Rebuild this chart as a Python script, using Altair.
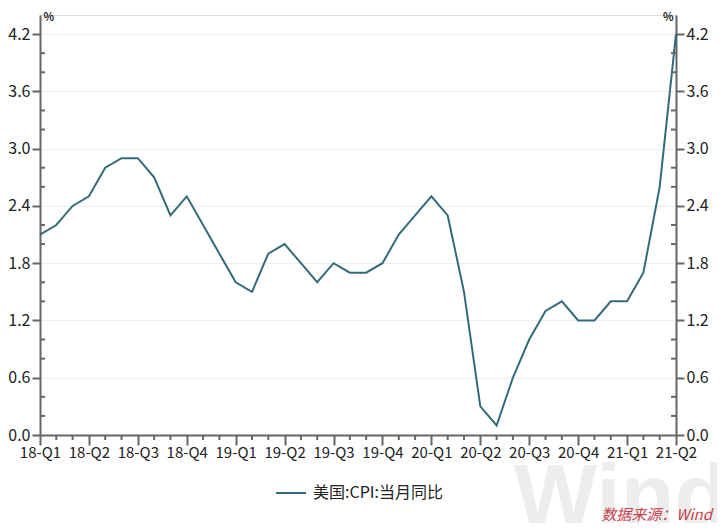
import altair as alt
import pandas as pd

# ---- data ----
months = [f"{y}-{m:02d}" for y in (2018, 2019, 2020) for m in range(1, 13)] + [
    "2021-01", "2021-02", "2021-03", "2021-04"]
cpi = [2.1, 2.2, 2.4, 2.5, 2.8, 2.9, 2.9, 2.7, 2.3, 2.5, 2.2, 1.9,
       1.6, 1.5, 1.9, 2.0, 1.8, 1.6, 1.8, 1.7, 1.7, 1.8, 2.1, 2.3,
       2.5, 2.3, 1.5, 0.3, 0.1, 0.6, 1.0, 1.3, 1.4, 1.2, 1.2, 1.4,
       1.4, 1.7, 2.6, 4.2]
quarters = ["18-Q1", "18-Q2", "18-Q3", "18-Q4", "19-Q1", "19-Q2", "19-Q3", "19-Q4",
            "20-Q1", "20-Q2", "20-Q3", "20-Q4", "21-Q1", "21-Q2"]
x_major = [0, 3, 6, 9, 12, 15, 18, 21, 24, 27, 30, 33, 36, 39]
x_minor = [1, 2, 4, 5, 7, 8, 10, 11, 13, 14, 16, 17, 19, 20, 22, 23, 25, 26,
           28, 29, 31, 32, 34, 35, 37, 38]
y_major = [0.0, 0.6, 1.2, 1.8, 2.4, 3.0, 3.6, 4.2]
y_minor = [0.2, 0.4, 0.8, 1.0, 1.4, 1.6, 2.0, 2.2, 2.6, 2.8, 3.2, 3.4, 3.8, 4.0]
series_name = "美国:CPI:当月同比"
source_text = "数据来源：Wind"
watermark_text = "Wind"

df = pd.DataFrame({"idx": list(range(len(cpi))), "month": months, "value": cpi,
                   "series": series_name})
yminor_df = pd.DataFrame({"v": y_minor})
xminor_df = pd.DataFrame({"v": x_minor})

FONT = "Noto Sans CJK SC"
AX = "#666666"
LINE = "#336b7a"
TXT = "#222222"
W, H = 636, 420
label_arr = "[" + ",".join(f"'{q}'" for q in quarters) + "]"

x_scale = alt.Scale(domain=[0, len(cpi) - 1], nice=False, zero=False)
x_axis = alt.Axis(
    values=x_major,
    labelExpr=f"{label_arr}[round(datum.value / 3)]",
    tickSize=10, grid=False, title=None, domainColor=AX, domainWidth=2,
    tickColor=AX, tickWidth=2, labelFont=FONT, labelFontSize=15, labelColor=TXT,
    labelPadding=0, labelFlush=False, labelOverlap=False, labelBound=False,
)

y_scale = alt.Scale(domain=[0, 4.4], nice=False, zero=True)


def y_axis(orient):
    left = orient == "left"
    return alt.Axis(
        orient=orient, values=y_major, format=".1f", tickSize=8, labelPadding=2,
        grid=left, gridColor="#eeeeee", gridWidth=1,
        domainColor=AX, domainWidth=2, tickColor=AX, tickWidth=2,
        labelFont=FONT, labelFontSize=16, labelColor=TXT,
        title="%", titleAngle=0, titleX=3 if left else -3, titleY=2,
        titleAlign="left" if left else "right", titleBaseline="middle",
        titleFont=FONT, titleFontSize=11, titleFontWeight="bold", titleColor=TXT,
    )


line = alt.Chart(df).mark_line(strokeWidth=2).encode(
    x=alt.X("idx:Q", scale=x_scale, axis=x_axis),
    y=alt.Y("value:Q", scale=y_scale, axis=y_axis("left")),
    color=alt.Color("series:N", scale=alt.Scale(range=[LINE]),
                    legend=alt.Legend(title=None, orient="none", legendX=235, legendY=462,
                                      padding=0, symbolType="stroke", symbolSize=900,
                                      symbolStrokeWidth=2, labelFont=FONT, labelFontSize=16,
                                      labelColor=TXT, labelOffset=6)),
)

right = alt.Chart(df).mark_line(opacity=0).encode(
    x=alt.X("idx:Q", scale=x_scale, axis=x_axis),
    y=alt.Y("value:Q", scale=y_scale, axis=y_axis("right")),
)

x_minor_ticks = alt.Chart(xminor_df).mark_rule(color=AX, strokeWidth=2).encode(
    x=alt.X("v:Q", scale=x_scale, axis=x_axis), y=alt.value(H), y2=alt.value(H + 5))
minor_left = alt.Chart(yminor_df).mark_rule(color=AX, strokeWidth=2).encode(
    y=alt.Y("v:Q", scale=y_scale, axis=None), x=alt.value(0), x2=alt.value(5))
minor_right = alt.Chart(yminor_df).mark_rule(color=AX, strokeWidth=2).encode(
    y=alt.Y("v:Q", scale=y_scale, axis=None), x=alt.value(W - 5), x2=alt.value(W))

watermark = alt.Chart(pd.DataFrame({"t": [watermark_text]})).mark_text(
    font="Liberation Sans", fontSize=88, fontWeight="bold", color="#ededed",
    align="left", baseline="alphabetic").encode(
    text="t:N", x=alt.value(474), y=alt.value(510))

source = alt.Chart(pd.DataFrame({"t": [source_text]})).mark_text(
    font=FONT, fontSize=15, fontStyle="italic", color="#c8414b",
    align="right", baseline="middle").encode(
    text="t:N", x=alt.value(672), y=alt.value(500))

chart = alt.layer(watermark, line, right, x_minor_ticks, minor_left, minor_right,
                  source).resolve_scale(
    y="independent"
).properties(
    width=W, height=H,
    autosize=alt.AutoSizeParams(type="none"),
    padding={"left": 32, "top": 7, "right": 41, "bottom": 88},
).configure_view(stroke=None).configure(background="white")

chart.save("out.html", embed_options={"renderer": "svg", "actions": False})
